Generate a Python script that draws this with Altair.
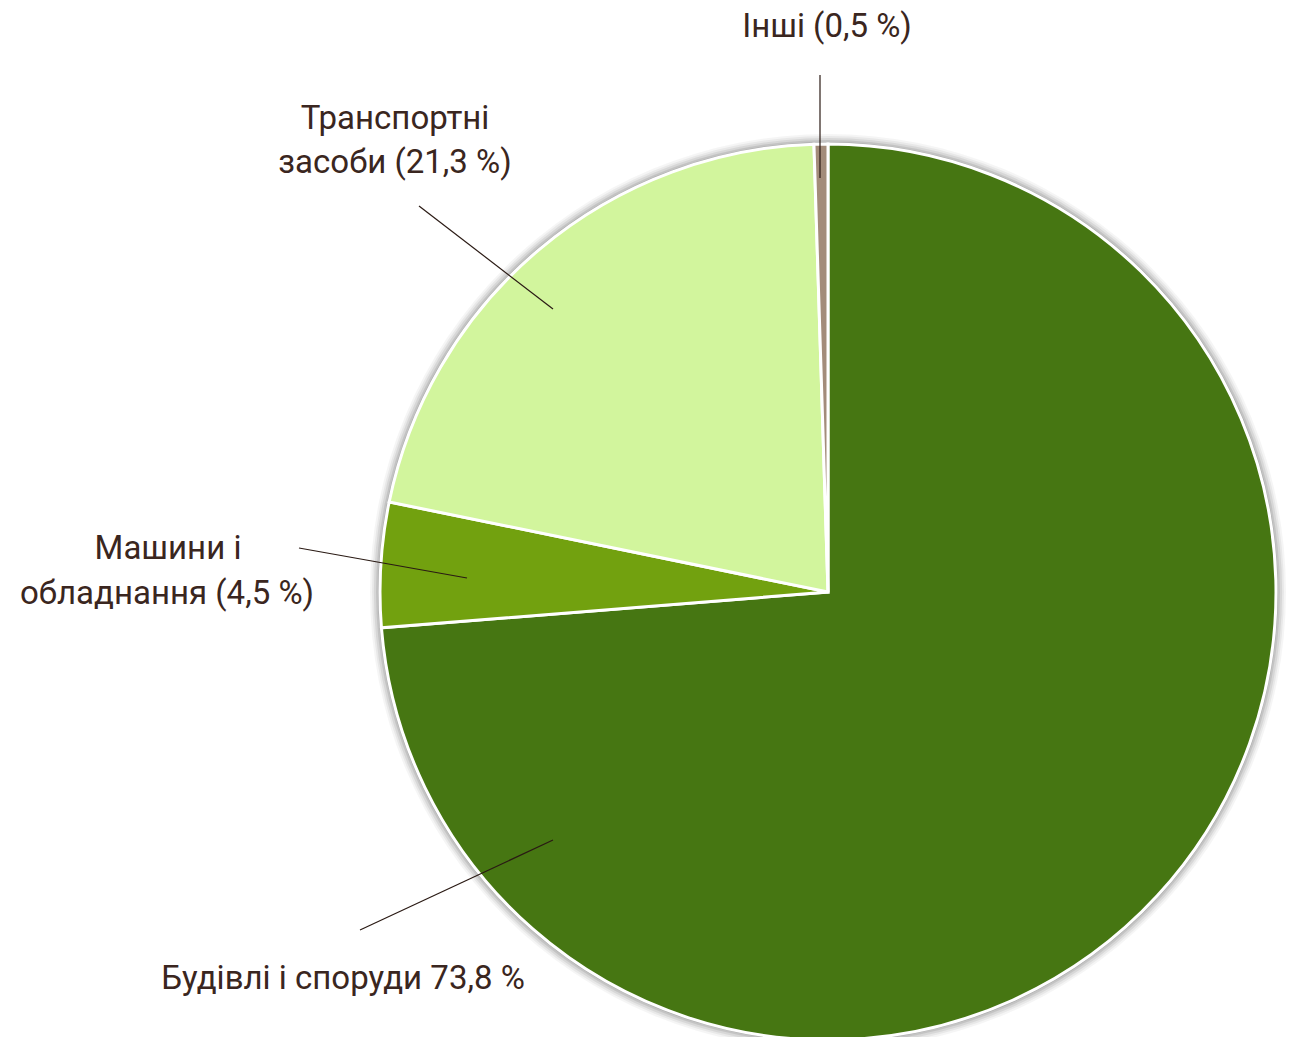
import altair as alt
import pandas as pd
import math

# Pie data
categories = ["Будівлі і споруди", "Машини і обладнання", "Транспортні засоби", "Інші"]
shares = [73.8, 4.5, 21.3, 0.5]
slice_order = [0, 1, 2, 3]
slice_colors = ["#467612", "#72A10F", "#D2F59D", "#A38C7A"]

# Label lines (annotation text)
label_text = ["Інші (0,5 %)", "Транспортні", "засоби (21,3 %)", "Машини і",
              "обладнання (4,5 %)", "Будівлі і споруди 73,8 %"]
label_x = [827, 395, 395, 168, 167, 343]
label_y = [27, 119, 163, 549, 594, 979]

# Leader lines (annotation)
lead_x1 = [820, 419, 299, 360]
lead_y1 = [75, 206, 548, 930]
lead_x2 = [820, 553, 467, 553]
lead_y2 = [178, 309, 578, 840]

W, H = 1278, 1029
CX, CY, R = 828, 592, 448
OFF = 8
TEXT_COLOR = "#3A2620"
FONT = "Roboto, Noto Sans"

pie_df = pd.DataFrame({"cat": categories, "share": shares, "ord": slice_order})
lab_df = pd.DataFrame({"t": label_text, "x": label_x, "y": label_y})
lead_df = pd.DataFrame({"x": lead_x1, "y": lead_y1, "x2": lead_x2, "y2": lead_y2})

xs = alt.Scale(domain=[OFF, OFF + W], range=[0, W])
ys = alt.Scale(domain=[OFF, OFF + H], range=[0, H])

halo_layers = []
for rr, op in [(R + 10, 0.04), (R + 8, 0.05), (R + 6, 0.07), (R + 4, 0.09), (R + 2, 0.12)]:
    halo_layers.append(
        alt.Chart(pd.DataFrame({"a": [0]})).mark_arc(
            theta=0, theta2=2 * math.pi, radius=rr, color="#000000", opacity=op
        ).encode(x=alt.value(CX - OFF), y=alt.value(CY - OFF))
    )

pie = alt.Chart(pie_df).mark_arc(radius=R, stroke="white", strokeWidth=3).encode(
    theta=alt.Theta("share:Q", stack=True),
    order=alt.Order("ord:Q"),
    color=alt.Color("cat:N", scale=alt.Scale(domain=categories, range=slice_colors), legend=None),
    x=alt.value(CX - OFF),
    y=alt.value(CY - OFF),
)

leads = alt.Chart(lead_df).mark_rule(color="#2A1A14", strokeWidth=1.2).encode(
    x=alt.X("x:Q", scale=xs, axis=None),
    y=alt.Y("y:Q", scale=ys, axis=None),
    x2="x2:Q",
    y2="y2:Q",
)

labels = alt.Chart(lab_df).mark_text(
    font=FONT, fontSize=33, color=TEXT_COLOR, align="center", baseline="middle"
).encode(
    x=alt.X("x:Q", scale=xs, axis=None),
    y=alt.Y("y:Q", scale=ys, axis=None),
    text="t:N",
)

chart = alt.layer(*halo_layers, pie, leads, labels).properties(
    width=W, height=H, padding=0, background="white",
    autosize=alt.AutoSizeParams(type="none")
).configure_view(stroke=None)

chart.save("out.html", embed_options={"renderer": "svg", "actions": False})
